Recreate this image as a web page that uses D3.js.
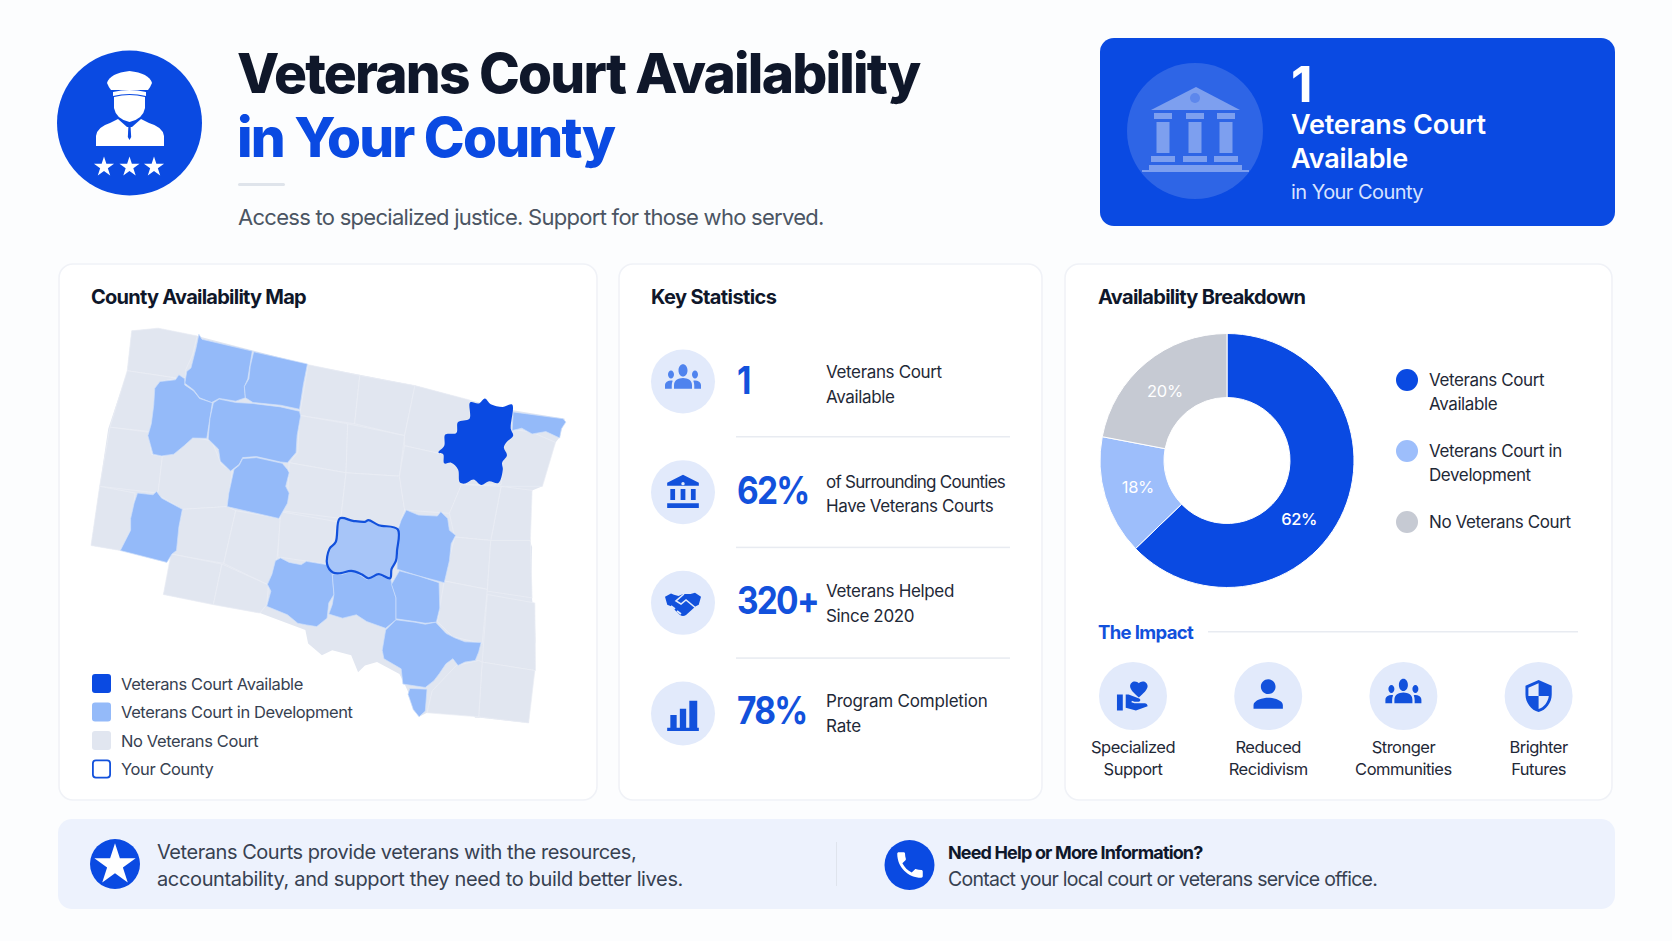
<!DOCTYPE html>
<html>
<head>
<meta charset="utf-8">
<title>Veterans Court Availability</title>
<script src="https://cdn.jsdelivr.net/npm/d3@7"></script>
<style>
    html, body { margin: 0; padding: 0; background: #fcfdfe; }
    svg { display: block; }
    text { font-family: Inter, "Noto Sans", sans-serif; }
</style>
</head>
<body>
<div id="chart"></div>
<script>
// values

// map units: [east, south] inside a 1567 x 1568 sheet
var stateOutline = [[208,180],[285,172],[398,195],[720,280],[1030,342],[1190,385],[1315,415],[1465,440],[1450,495],[1438,510],[1420,545],[1405,600],[1400,640],[1370,652],[1365,720],[1360,790],[1370,820],[1368,900],[1370,975],[1378,1040],[1380,1100],[1372,1130],[1378,1185],[1365,1250],[1360,1340],[1220,1325],[1205,1325],[1190,1310],[1130,1295],[1065,1310],[1042,1322],[1000,1225],[985,1195],[920,1160],[885,1170],[865,1190],[845,1140],[790,1125],[760,1140],[720,1105],[712,1065],[580,1015],[300,960],[322,850],[175,830],[90,815],[115,640],[140,470],[195,300]];

var noCourtCounties = [
    [[208,180],[285,172],[398,195],[385,250],[365,295],[365,318],[340,320],[195,298]],
    [[195,298],[340,320],[290,330],[275,400],[258,490],[262,478],[145,465]],
    [[145,465],[258,480],[265,545],[297,552],[285,660],[115,640]],
    [[115,640],[218,660],[205,770],[175,830],[90,815]],
    [[297,552],[330,540],[385,495],[440,505],[468,575],[500,595],[485,700],[355,708],[275,660],[285,655]],
    [[355,708],[485,700],[510,712],[475,868],[320,840],[345,760]],
    [[510,712],[640,735],[630,850],[605,932],[475,868]],
    [[322,840],[470,870],[445,990],[300,960]],
    [[470,870],[605,932],[600,990],[580,1015],[445,990]],
    [[640,715],[805,745],[775,870],[640,850],[632,850]],
    [[720,280],[870,312],[855,455],[695,430]],
    [[870,312],[1030,342],[1000,490],[855,455]],
    [[1030,342],[1190,385],[1190,440],[1155,450],[1150,480],[1115,490],[1110,545],[1000,520],[1000,490]],
    [[695,430],[835,455],[830,600],[665,570],[690,540]],
    [[835,455],[1000,490],[985,610],[830,600]],
    [[665,570],[830,600],[815,735],[640,712],[660,680]],
    [[830,600],[985,610],[1000,710],[980,765],[815,735]],
    [[1000,520],[1110,545],[1155,590],[1165,635],[1130,720],[1000,710],[985,610]],
    [[1165,635],[1280,635],[1290,520],[1315,490],[1305,470],[1370,480],[1438,510],[1400,640],[1280,640]],
    [[1280,640],[1370,652],[1365,800],[1250,800]],
    [[1130,720],[1165,635],[1280,640],[1250,800],[1145,790]],
    [[1145,790],[1250,800],[1240,945],[1115,920]],
    [[1250,800],[1365,800],[1370,970],[1240,950]],
    [[1115,920],[1240,945],[1225,1105],[1140,1085],[1095,1040]],
    [[1240,960],[1378,985],[1380,1185],[1225,1160]],
    [[1225,1160],[1378,1185],[1360,1340],[1215,1322]],
    [[1215,1155],[1225,1160],[1215,1322],[1065,1310],[1080,1245],[1150,1170]]
];

var inDevelopmentCounties = [
    [[403,190],[412,205],[558,240],[550,290],[545,322],[535,345],[538,378],[510,388],[462,380],[440,392],[405,378],[388,355],[362,335],[368,300],[380,290],[395,230]],
    [[562,242],[718,278],[706,340],[695,412],[640,400],[560,392],[538,378],[535,345],[548,322],[552,285]],
    [[345,310],[362,322],[362,340],[388,358],[405,380],[442,393],[435,440],[426,498],[385,497],[360,520],[330,545],[295,550],[270,545],[255,490],[265,455],[272,400],[275,350],[290,330],[335,325]],
    [[445,393],[462,382],[510,392],[560,395],[640,405],[695,418],[698,432],[688,490],[685,540],[660,570],[640,568],[570,552],[530,555],[520,575],[495,595],[465,565],[460,530],[430,500],[435,440]],
    [[530,558],[570,555],[645,572],[660,590],[665,600],[655,640],[665,660],[660,690],[635,735],[485,700],[490,660],[505,590],[520,578]],
    [[225,660],[270,665],[280,655],[295,675],[355,708],[345,760],[338,830],[325,840],[310,865],[175,830],[205,770],[205,735],[215,690]],
    [[1005,710],[1040,725],[1095,728],[1105,715],[1125,735],[1130,770],[1148,785],[1135,810],[1130,860],[1115,925],[1040,905],[978,885],[980,770],[990,740]],
    [[640,852],[665,865],[700,872],[715,862],[775,872],[790,897],[795,960],[780,985],[775,1030],[745,1055],[715,1050],[690,1045],[660,1020],[600,995],[612,950],[602,930],[615,900],[625,860]],
    [[790,900],[820,900],[850,890],[890,915],[925,902],[960,915],[965,935],[975,970],[975,1035],[945,1060],[890,1040],[860,1020],[820,1030],[780,1018],[790,990],[795,960]],
    [[985,890],[1040,905],[1100,925],[1102,1000],[1092,1042],[1060,1045],[1030,1040],[975,1032],[975,970],[962,930]],
    [[975,1035],[1030,1042],[1060,1048],[1090,1042],[1120,1075],[1145,1088],[1175,1100],[1222,1102],[1215,1130],[1205,1155],[1175,1160],[1155,1170],[1140,1150],[1120,1165],[1100,1195],[1085,1215],[1060,1235],[995,1225],[990,1180],[940,1150],[935,1125],[945,1065]],
    [[1015,1238],[1065,1240],[1060,1305],[1042,1322],[1025,1300],[1010,1255]],
    [[1315,420],[1460,440],[1468,450],[1455,470],[1450,497],[1410,478],[1370,485],[1340,468],[1312,475]]
];

var courtCounty = [[1190,392],[1215,395],[1233,380],[1250,397],[1285,405],[1312,398],[1308,470],[1315,490],[1295,510],[1288,525],[1297,548],[1283,570],[1285,590],[1272,630],[1245,625],[1222,636],[1200,620],[1175,632],[1160,628],[1155,590],[1135,570],[1115,572],[1112,545],[1098,540],[1115,520],[1118,487],[1150,482],[1155,450],[1188,440]];

var yourCounty = [[812,735],[850,742],[885,745],[895,740],[925,755],[980,767],[978,830],[975,860],[962,885],[958,912],[925,900],[895,912],[875,900],[845,890],[815,897],[792,895],[775,870],[782,825],[800,805]];

var mapLegendLabels = ["Veterans Court Available", "Veterans Court in Development", "No Veterans Court", "Your County"];

var breakdownLabels = ["Veterans Court Available", "Veterans Court in Development", "No Veterans Court"];
// the picture's slices are not quite the same as their printed numbers
var sliceShares = [62.8, 15.2, 22];
var slicePrinted = ["62%", "18%", "20%"];

var statValues = ["1", "62%", "320+", "78%"];
var statLines = [
    ["Veterans Court", "Available"],
    ["of Surrounding Counties", "Have Veterans Courts"],
    ["Veterans Helped", "Since 2020"],
    ["Program Completion", "Rate"]
];

var impactLines = [
    ["Specialized", "Support"],
    ["Reduced", "Recidivism"],
    ["Stronger", "Communities"],
    ["Brighter", "Futures"]
];

var BLUE = "#0a4ae2";
var MID = "#94baf9";
var PALE = "#e1e6f0";
var INK = "#0f172a";
var BODY = "#1f2937";
var TINT = "#e2eafb";

// icon outlines on a 24 x 24 box
var ICONS = {
    people: "M12 12.75c1.63 0 3.07.39 4.24.9 1.08.48 1.76 1.56 1.76 2.73V18H6v-1.61c0-1.18.68-2.26 1.76-2.73 1.17-.52 2.61-.91 4.24-.91zM4 13c1.1 0 2-.9 2-2s-.9-2-2-2-2 .9-2 2 .9 2 2 2zm1.13 1.1C4.76 14.04 4.39 14 4 14c-.99 0-1.93.21-2.78.58C.48 14.9 0 15.62 0 16.43V18h4.5v-1.61c0-.83.23-1.61.63-2.29zM20 13c1.1 0 2-.9 2-2s-.9-2-2-2-2 .9-2 2 .9 2 2 2zm4 3.43c0-.81-.48-1.53-1.22-1.85-.85-.37-1.79-.58-2.78-.58-.39 0-.76.04-1.13.1.4.68.63 1.46.63 2.29V18H24v-1.57zM12 6c1.66 0 3 1.34 3 3s-1.34 3-3 3-3-1.34-3-3 1.34-3 3-3z",
    bank: "M4 10h3v7H4zM10.5 10h3v7h-3zM2 19h20v3H2zM17 10h3v7h-3zM12 1L2 6v2h20V6z",
    hands: "M0 7.5L4 5l2 1 3 1 3-1.5 5 0 3-1 4 3-1.5 6-2 1-6.5 6.5q-2 1.5-4 0L4 14.5l-2.5-1z",
    bars: "M2 21h20v2H2zM4 13h4v8H4zM10 9h4v12h-4zM16 4h5v17h-5z",
    heart: "M1 11h4v11H1zm15-7.75C16.65 2.49 17.66 2 18.7 2 20.55 2 22 3.45 22 5.3c0 2.27-2.91 4.99-6 7.7-3.09-2.71-6-5.43-6-7.7C10 3.45 11.45 2 13.3 2c1.04 0 2.05.49 2.7 1.25zM20 17h-7l-2.09-.73.33-.94L13 16h2.82c.65 0 1.18-.53 1.18-1.18 0-.49-.31-.93-.77-1.11L8.97 11H7v9.02L14 22l8.01-3c-.01-1.1-.9-2-2.01-2z",
    person: "M12 12c2.21 0 4-1.79 4-4s-1.79-4-4-4-4 1.79-4 4 1.79 4 4 4zm0 2c-2.67 0-8 1.34-8 4v2h16v-2c0-2.66-5.33-4-8-4z",
    shield: "M12 1L3 5v6c0 5.55 3.84 10.74 9 12 5.16-1.26 9-6.45 9-12V5l-9-4zm0 10.99h7c-.53 4.12-3.28 7.79-7 8.94V12H5V6.3l7-3.11v8.8z",
    phone: "M6.62 10.79c1.44 2.83 3.76 5.14 6.59 6.59l2.2-2.2c.27-.27.67-.36 1.02-.24 1.12.37 2.33.57 3.57.57.55 0 1 .45 1 1V20c0 .55-.45 1-1 1-9.39 0-17-7.61-17-17 0-.55.45-1 1-1h3.5c.55 0 1 .45 1 1 0 1.25.2 2.45.57 3.57.11.35.03.74-.25 1.02l-2.2 2.2z"
};

var svg = d3.select("#chart").append("svg").attr("width", 1672).attr("height", 941);

function text(parent, str, x, y, size, weight, fill, spacing, anchor) {
    return parent.append("text")
        .attr("x", x).attr("y", y)
        .attr("font-size", size)
        .attr("font-weight", weight)
        .attr("fill", fill)
        .attr("letter-spacing", spacing || 0)
        .attr("text-anchor", anchor || "start")
        .text(str);
}

function icon(parent, name, cx, cy, size, fill, tall) {
    var k = size / 24;
    var ky = k * (tall || 1);
    return parent.append("path")
        .attr("d", ICONS[name])
        .attr("transform", "translate(" + (cx - size / 2) + "," + (cy - 12 * ky) + ") scale(" + k + "," + ky + ")")
        .attr("fill", fill);
}

function card(x, y, w, h) {
    svg.append("rect")
        .attr("x", x).attr("y", y).attr("width", w).attr("height", h)
        .attr("rx", 14)
        .attr("fill", "#ffffff")
        .attr("stroke", "#f0f2f7")
        .attr("stroke-width", 1.6);
}

/* Header */
function drawHeader() {
    svg.append("circle").attr("cx", 129.5).attr("cy", 123).attr("r", 72.5).attr("fill", BLUE);

    // officer: cap, visor, head, shoulders, tie
    var officer = svg.append("g").attr("fill", "#ffffff");
    officer.append("path").attr("d", "M107 83 Q110 73 129.5 71 Q149 73 152 83 Q150 88 148 90 L111 90 Q109 88 107 83 Z");
    officer.append("path").attr("d", "M113 92 Q129.5 88 146 92 L146 96 Q129.5 92 113 96 Z");
    officer.append("path").attr("d", "M114 97 Q129.5 93 145 97 L145 108 Q143 119 129.5 122 Q116 119 114 108 Z");
    officer.append("path").attr("d", "M96 146 L96 136 Q97 127 110 123 L118 119 L127 127 L132 127 L141 119 L149 123 Q163 127 164 136 L164 146 Z");
    svg.append("path").attr("d", "M128.4 127 L130.6 127 L131.2 137 L129.5 140 L127.8 137 Z").attr("fill", BLUE);
    svg.append("g").selectAll("path").data([104, 129.5, 154]).enter().append("path")
        .attr("d", d3.symbol(d3.symbolStar, 125))
        .attr("transform", function (d) { return "translate(" + d + ",167)"; })
        .attr("fill", "#ffffff");

    text(svg, "Veterans Court Availability", 237, 93, 55, 800, INK, -1.8);
    text(svg, "in Your County", 237, 157, 55, 800, BLUE, -1.8);
    svg.append("rect").attr("x", 238).attr("y", 183).attr("width", 47).attr("height", 3).attr("rx", 1.5).attr("fill", "#dfe4eb");
    text(svg, "Access to specialized justice. Support for those who served.", 238, 225, 22, 400, "#4b5563", -0.72);

    // blue call-out box
    svg.append("rect").attr("x", 1100).attr("y", 38).attr("width", 515).attr("height", 188).attr("rx", 14).attr("fill", BLUE);
    svg.append("circle").attr("cx", 1195).attr("cy", 131).attr("r", 68).attr("fill", "#ffffff").attr("fill-opacity", 0.15);
    var temple = svg.append("g").attr("fill", "#ffffff").attr("fill-opacity", 0.38);
    var columns = [1163, 1195, 1226];
    temple.append("path").attr("d", "M1151 110 L1196 87 L1240 110 Z");
    temple.selectAll("rect.column").data(columns).enter().append("rect")
        .attr("x", function (d) { return d - 6.5; }).attr("y", 122).attr("width", 13).attr("height", 31);
    temple.selectAll("rect.cap").data(columns).enter().append("rect")
        .attr("x", function (d) { return d - 9; }).attr("y", 113).attr("width", 18).attr("height", 6);
    temple.selectAll("rect.foot").data(columns).enter().append("rect")
        .attr("x", function (d) { return d - 12; }).attr("y", 156).attr("width", 24).attr("height", 6);
    temple.append("rect").attr("x", 1149).attr("y", 165).attr("width", 93).attr("height", 5);
    temple.append("rect").attr("x", 1142).attr("y", 170).attr("width", 107).attr("height", 2);
    svg.append("circle").attr("cx", 1195).attr("cy", 98).attr("r", 5).attr("fill", "#5d87ec");

    text(svg, "1", 1291, 102, 50, 700, "#ffffff");
    text(svg, "Veterans Court", 1291, 134, 27, 600, "#ffffff", -0.15);
    text(svg, "Available", 1291, 167.5, 27, 600, "#ffffff", -0.15);
    text(svg, "in Your County", 1291, 199, 20, 400, "#d8e3ff", -0.55);
}

/* County map */
function drawMap() {
    card(59, 264, 538, 536);
    text(svg, "County Availability Map", 91, 304, 20, 700, INK, -0.75);

    var x = d3.scaleLinear().domain([0, 1567]).range([60, 600]);
    var y = d3.scaleLinear().domain([0, 1568]).range([270, 800]);
    var county = d3.line()
        .x(function (d) { return x(d[0]); })
        .y(function (d) { return y(d[1]); })
        .curve(d3.curveLinearClosed);
    var scallop = d3.line()
        .x(function (d) { return x(d[0]); })
        .y(function (d) { return y(d[1]); })
        .curve(d3.curveCatmullRomClosed.alpha(0.5));

    var map = svg.append("g");
    map.append("path").attr("d", county(stateOutline)).attr("fill", PALE);

    map.selectAll("path.none").data(noCourtCounties).enter().append("path")
        .attr("class", "none")
        .attr("d", county)
        .attr("fill", PALE)
        .attr("stroke", "#ebeef5")
        .attr("stroke-width", 0.7);

    map.selectAll("path.dev").data(inDevelopmentCounties).enter().append("path")
        .attr("class", "dev")
        .attr("d", county)
        .attr("fill", MID)
        .attr("stroke", "#cfe0fb")
        .attr("stroke-width", 0.7)
        .attr("stroke-linejoin", "round");

    map.append("path").attr("d", scallop(courtCounty)).attr("fill", BLUE);

    map.append("path").attr("d", scallop(yourCounty))
        .attr("fill", "#a7c5f8").attr("stroke", "#1251dc").attr("stroke-width", 2.2).attr("stroke-linejoin", "round");

    var swatch = [
        { fill: BLUE, stroke: "none" },
        { fill: MID, stroke: "none" },
        { fill: PALE, stroke: "none" },
        { fill: "#ffffff", stroke: "#1251dc" }
    ];
    var row = d3.scalePoint().domain(mapLegendLabels).range([674, 759.5]);
    var item = svg.append("g").selectAll("g").data(mapLegendLabels).enter().append("g");
    item.append("rect")
        .attr("x", function (d, i) { return swatch[i].stroke === "none" ? 92 : 92.9; })
        .attr("y", function (d, i) { return row(d) + (swatch[i].stroke === "none" ? 0 : 0.9); })
        .attr("width", function (d, i) { return swatch[i].stroke === "none" ? 19 : 17.2; })
        .attr("height", function (d, i) { return swatch[i].stroke === "none" ? 19 : 17.2; })
        .attr("rx", 3)
        .attr("fill", function (d, i) { return swatch[i].fill; })
        .attr("stroke", function (d, i) { return swatch[i].stroke; })
        .attr("stroke-width", 1.8);
    item.append("text")
        .attr("x", 121)
        .attr("y", function (d) { return row(d) + 15.5; })
        .attr("font-size", 16.5)
        .attr("letter-spacing", -0.4)
        .attr("fill", "#374151")
        .text(function (d) { return d; });
}

/* Key statistics */
function drawStats() {
    card(619, 264, 423, 536);
    text(svg, "Key Statistics", 651, 304, 20, 700, INK, -0.6);

    var y = d3.scalePoint().domain(statValues).range([381.5, 713.5]);
    var numberY = d3.scalePoint().domain(statValues).range([394, 724]);
    var lineY = d3.scalePoint().domain(statValues).range([378, 707]);
    var names = ["people", "bank", "hands", "bars"];
    var sizes = [36, 38, 36, 38];
    var tall = [1.35, 1, 0.9, 1];
    var lineSpacing = [[-0.35, -0.35], [-0.75, -0.4], [-0.35, -0.35], [-0.2, -0.2]];
    var g = svg.append("g");

    statValues.forEach(function (v, i) {
        var cy = y(v);
        g.append("circle").attr("cx", 683).attr("cy", cy).attr("r", 32).attr("fill", TINT);
        icon(g, names[i], 683, i === 0 ? cy - 5 : cy, sizes[i], i === 0 ? "#4f83ee" : "#1251dc", tall[i]);
        // the numerals are narrower than the font's own
        text(g, v, 0, 0, 38, 700, "#1251dc", -2)
            .attr("transform", "translate(737," + numberY(v) + ") scale(0.88,1)");
        text(g, statLines[i][0], 826, lineY(v), 17, 400, BODY, lineSpacing[i][0]);
        text(g, statLines[i][1], 826, lineY(v) + 24.5, 17, 400, BODY, lineSpacing[i][1]);
        if (i < statValues.length - 1) {
            g.append("rect").attr("x", 736).attr("y", cy + 54.5).attr("width", 274).attr("height", 1.5).attr("fill", "#e8ebf1");
        }
    });

    // clasp lines on the handshake
    g.append("path")
        .attr("d", "M684 594 L676 601 L681 604 L686 600 L697 609 M677 611 L681 614 M671 606 L675 609")
        .attr("fill", "none").attr("stroke", TINT).attr("stroke-width", 1.6);
    g.append("circle").attr("cx", 683).attr("cy", y("62%") - 8.5).attr("r", 1.7).attr("fill", TINT);
}

/* Donut and impact row */
function drawBreakdown() {
    card(1065, 264, 547, 536);
    text(svg, "Availability Breakdown", 1098, 304, 20, 700, INK, -0.7);

    var colors = d3.scaleOrdinal().domain(breakdownLabels).range([BLUE, "#9dbefb", "#c6cad3"]);
    var pie = d3.pie().sort(null);
    var arc = d3.arc().innerRadius(63).outerRadius(127);
    var labelArc = d3.arc().innerRadius(93).outerRadius(93);
    var donut = svg.append("g").attr("transform", "translate(1227,460.5)");

    donut.selectAll("path").data(pie(sliceShares)).enter().append("path")
        .attr("d", arc)
        .attr("fill", function (d, i) { return colors(breakdownLabels[i]); })
        .attr("stroke", "#ffffff")
        .attr("stroke-width", 1);

    // the 62% label sits nearer the slice's end than its middle
    var labelTurn = [0.28, 0, -0.04];
    donut.selectAll("text").data(pie(sliceShares)).enter().append("text")
        .attr("transform", function (d, i) {
            var t = labelTurn[i];
            var c = labelArc.centroid({ startAngle: d.startAngle + t, endAngle: d.endAngle + t });
            return "translate(" + c[0] + "," + c[1] + ")";
        })
        .attr("dy", "0.35em")
        .attr("text-anchor", "middle")
        .attr("font-size", 16.5)
        .attr("letter-spacing", -0.3)
        .attr("font-weight", function (d, i) { return i === 0 ? 500 : 400; })
        .attr("fill", "#ffffff")
        .text(function (d, i) { return slicePrinted[i]; });

    var legendLines = [["Veterans Court", "Available"], ["Veterans Court in", "Development"], ["No Veterans Court"]];
    var legendY = d3.scalePoint().domain(breakdownLabels).range([380, 522]);
    breakdownLabels.forEach(function (name, i) {
        var cy = legendY(name);
        svg.append("circle").attr("cx", 1407).attr("cy", cy).attr("r", 11).attr("fill", colors(name));
        legendLines[i].forEach(function (line, j) {
            text(svg, line, 1429, cy + 6 + j * 23.5, 17, 400, BODY, -0.4);
        });
    });

    text(svg, "The Impact", 1098, 639, 18.5, 700, "#1251dc", -0.65);
    svg.append("rect").attr("x", 1208).attr("y", 631).attr("width", 370).attr("height", 1.5).attr("fill", "#e8ebf1");

    var impactX = d3.scalePoint().domain(impactLines.map(function (d) { return d[0]; })).range([1133, 1538.6]);
    var impactIcons = ["heart", "person", "people", "shield"];
    var impactSizes = [35, 44, 36, 35];
    var impactTall = [1, 1, 1.35, 1];
    var impactNudge = [0, -2, -5, 0];
    impactLines.forEach(function (lines, i) {
        var cx = impactX(lines[0]);
        svg.append("circle").attr("cx", cx).attr("cy", 696).attr("r", 34).attr("fill", TINT);
        icon(svg, impactIcons[i], cx, 696 + impactNudge[i], impactSizes[i], "#1251dc", impactTall[i]);
        text(svg, lines[0], cx, 753, 16.5, 400, BODY, -0.5, "middle");
        text(svg, lines[1], cx, 775, 16.5, 400, BODY, -0.5, "middle");
    });
}

/* Bottom strip */
function drawFooter() {
    svg.append("rect").attr("x", 58).attr("y", 819).attr("width", 1557).attr("height", 90).attr("rx", 14).attr("fill", "#edf2fd");

    svg.append("circle").attr("cx", 115).attr("cy", 864).attr("r", 25).attr("fill", BLUE);
    svg.append("path").attr("d", d3.symbol(d3.symbolStar, 530))
        .attr("transform", "translate(115,865)").attr("fill", "#ffffff");
    text(svg, "Veterans Courts provide veterans with the resources,", 157, 859, 20, 400, "#374151", -0.45);
    text(svg, "accountability, and support they need to build better lives.", 157, 886, 20, 400, "#374151", -0.36);

    svg.append("rect").attr("x", 836).attr("y", 842).attr("width", 1).attr("height", 44).attr("fill", "#dfe4ed");

    svg.append("circle").attr("cx", 909.5).attr("cy", 865).attr("r", 25).attr("fill", BLUE);
    icon(svg, "phone", 910, 865, 34, "#ffffff");
    text(svg, "Need Help or More Information?", 948, 859, 18, 700, INK, -0.85);
    text(svg, "Contact your local court or veterans service office.", 948, 885.5, 19.5, 400, "#374151", -0.75);
}

drawHeader();
drawMap();
drawStats();
drawBreakdown();
drawFooter();
</script>
</body>
</html>
